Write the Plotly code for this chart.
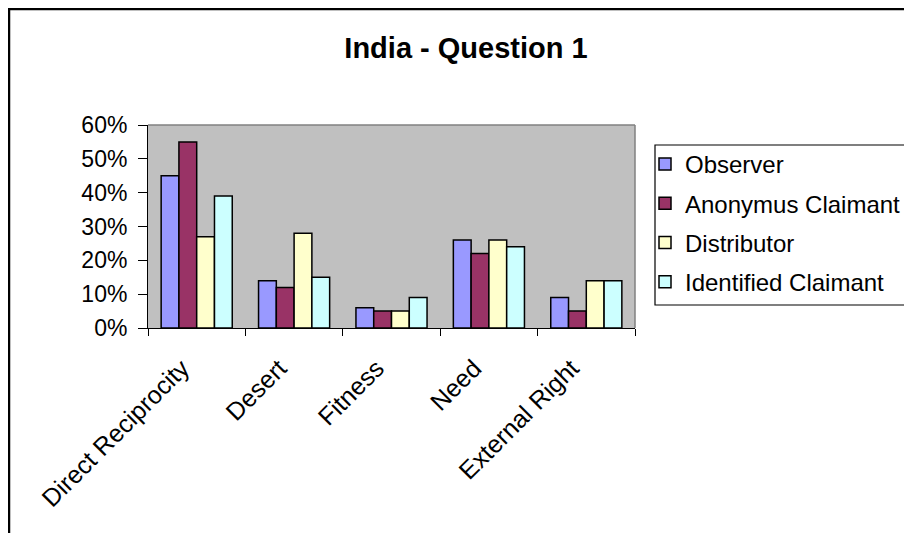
import plotly.graph_objects as go

categories = ["Direct Reciprocity", "Desert", "Fitness", "Need", "External Right"]
series_names = ["Observer", "Anonymus Claimant", "Distributor", "Identified Claimant"]
observer = [0.45, 0.14, 0.06, 0.26, 0.09]
anonymus_claimant = [0.55, 0.12, 0.05, 0.22, 0.05]
distributor = [0.27, 0.28, 0.05, 0.26, 0.14]
identified_claimant = [0.39, 0.15, 0.09, 0.24, 0.14]
y_tick_values = [0, 0.1, 0.2, 0.3, 0.4, 0.5, 0.6]
y_tick_labels = ["0%", "10%", "20%", "30%", "40%", "50%", "60%"]
title_text = "India - Question 1"

series_values = [observer, anonymus_claimant, distributor, identified_claimant]
colors = ["#9999FF", "#993366", "#FFFFCC", "#CCFFFF"]

FONT = "Arial, 'Liberation Sans', sans-serif"
PAD = "\u00a0\u00a0\u00a0"  # keeps rotated labels clear of the axis

fig = go.Figure()
for name, vals, col in zip(series_names, series_values, colors):
    fig.add_trace(go.Bar(
        x=categories, y=vals, name=name, legendgroup=name,
        marker=dict(color=col, line=dict(color="black", width=1.5)),
    ))

# page body has an 8px margin; work in reference pixels and subtract it
OFF = 8
W, H = 912 - OFF, 533 - OFF
PL, PT, PR, PB = 148, 125, 635, 328  # plot area in reference pixels
L, T = PL - OFF, PT - OFF
R, B = W - (PR - OFF), H - (PB - OFF)
pw = PR - PL
ph = PB - PT

def px_x(px):
    return (px - PL) / pw

def px_y(py):
    return (PB - py) / ph

fig.update_layout(
    width=W, height=H,
    margin=dict(l=L, r=R, t=T, b=B, autoexpand=False),
    paper_bgcolor="white",
    plot_bgcolor="#C0C0C0",
    barmode="group",
    bargap=0.27,
    bargroupgap=0,
    font=dict(family=FONT, size=22, color="black"),
    title=dict(text="<b>" + title_text + "</b>", x=px_x(466), xref="paper",
               xanchor="center", y=1 - (48 - OFF) / H, yanchor="middle",
               font=dict(family=FONT, size=29, color="black")),
    showlegend=True,
    legend=dict(
        x=px_x(645), y=px_y(142), xanchor="left", yanchor="top",
        borderwidth=0, bgcolor="rgba(0,0,0,0)",
        font=dict(family=FONT, size=24, color="black"),
        tracegroupgap=5, traceorder="grouped",
    ),
    xaxis=dict(
        tickangle=-45, showgrid=False, showline=True, linecolor="black",
        linewidth=1, ticks="outside", ticklen=7, tickcolor="black",
        tickson="boundaries", tickfont=dict(size=25), zeroline=False,
        tickmode="array", tickvals=categories,
        ticktext=[c + PAD for c in categories],
    ),
    yaxis=dict(
        range=[0, 0.6], tickvals=y_tick_values, ticktext=y_tick_labels,
        showgrid=False, showline=True, linecolor="black", linewidth=1,
        ticks="outside", ticklen=9, tickcolor="black", zeroline=False,
        tickfont=dict(size=23), ticklabelstandoff=6,
    ),
    shapes=[
        dict(type="line", xref="paper", yref="paper", x0=0, x1=1, y0=1, y1=1,
             line=dict(color="#808080", width=1.5)),
        dict(type="line", xref="paper", yref="paper", x0=1, x1=1, y0=0, y1=1,
             line=dict(color="#808080", width=1.5)),
        dict(type="rect", xref="paper", yref="paper",
             x0=px_x(9), x1=px_x(930), y0=px_y(9), y1=px_y(560),
             line=dict(color="black", width=2.5), layer="below"),
        dict(type="rect", xref="paper", yref="paper",
             x0=px_x(655), x1=px_x(960), y0=px_y(305), y1=px_y(145),
             line=dict(color="black", width=1.2), fillcolor="white",
             layer="below"),
    ],
)

fig.write_html("out.html")
